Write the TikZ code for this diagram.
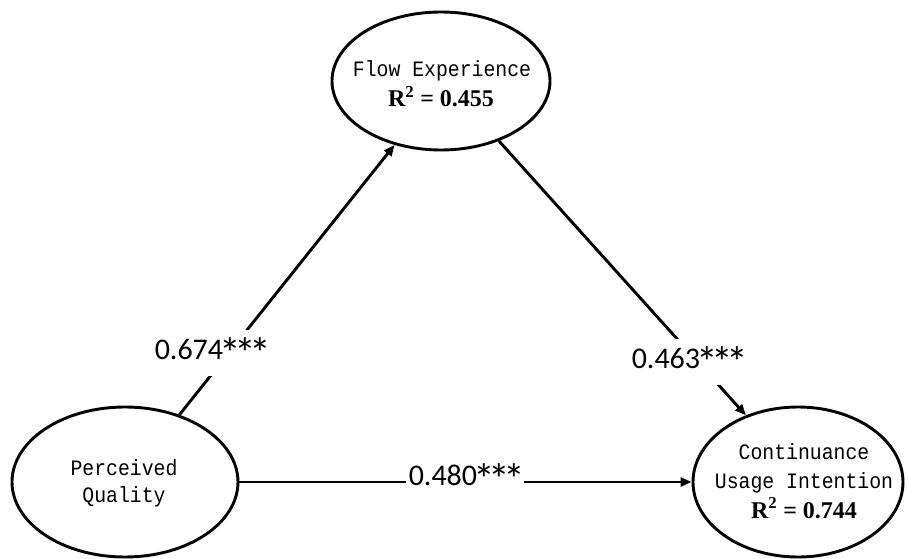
\documentclass[tikz,border=0pt]{standalone}
\usepackage{fontspec}
\setmainfont{Liberation Serif}
\newfontfamily\monof[FakeStretch=0.9]{Liberation Mono}
\newfontfamily\lblf{Carlito}
\usetikzlibrary{shapes.geometric,arrows.meta}
\newcommand\bigast{\hbox to 0.49em{\hss\raisebox{-0.3em}{\scalebox{1.45}{*}}\hss}}
\newcommand\threestars{\bigast\bigast\bigast}
\begin{document}
\begin{tikzpicture}[x=1pt,y=-1pt,
  latent/.style={draw, ellipse, line width=2.9pt, inner sep=0pt},
  mono/.style={anchor=base, inner sep=0pt, font=\monof\fontsize{22}{26}\selectfont},
  rsq/.style={anchor=base, inner sep=0pt, font=\bfseries\fontsize{24}{28}\selectfont},
  conn/.style={line width=2.9pt, -{Triangle[length=11pt,width=9pt]}},
  lbl/.style={fill=white, inner xsep=3pt, inner ysep=8pt, font=\lblf\fontsize{30}{34}\selectfont}]
\useasboundingbox[fill=white] (0,0) rectangle (908,559);
% ellipses
\node[latent, minimum width=218pt, minimum height=138pt] (fe) at (441,81) {};
\node[latent, minimum width=226pt, minimum height=150pt] (pq) at (125,482) {};
\node[latent, minimum width=210pt, minimum height=150pt] (cui) at (798,482) {};
% texts
\node[mono] (fe1) at (442,77) {Flow Experience};
\node[rsq] (fe2) at (441,107) {R\textsuperscript{2} = 0.455};
\node[mono] (pq1) at (124,475) {Perceived};
\node[mono] (pq2) at (124,502) {Quality};
\node[mono] (cui1) at (804,459) {Continuance};
\node[mono] (cui2) at (804,488) {Usage Intention};
\node[rsq] (cui3) at (804,518) {R\textsuperscript{2} = 0.744};
% connectors
\draw[conn] (pq.51.7) -- (fe.234.3);
\draw[conn] (fe.-46) -- (cui.128.3);
\draw[conn] (pq) -- (cui);
% path labels
\node[lbl] (l1) at (211,353) {0.674\threestars};
\node[lbl] (l2) at (688,362) {0.463\threestars};
\node[lbl] (l3) at (465,479) {0.480\threestars};
\end{tikzpicture}
\end{document}
